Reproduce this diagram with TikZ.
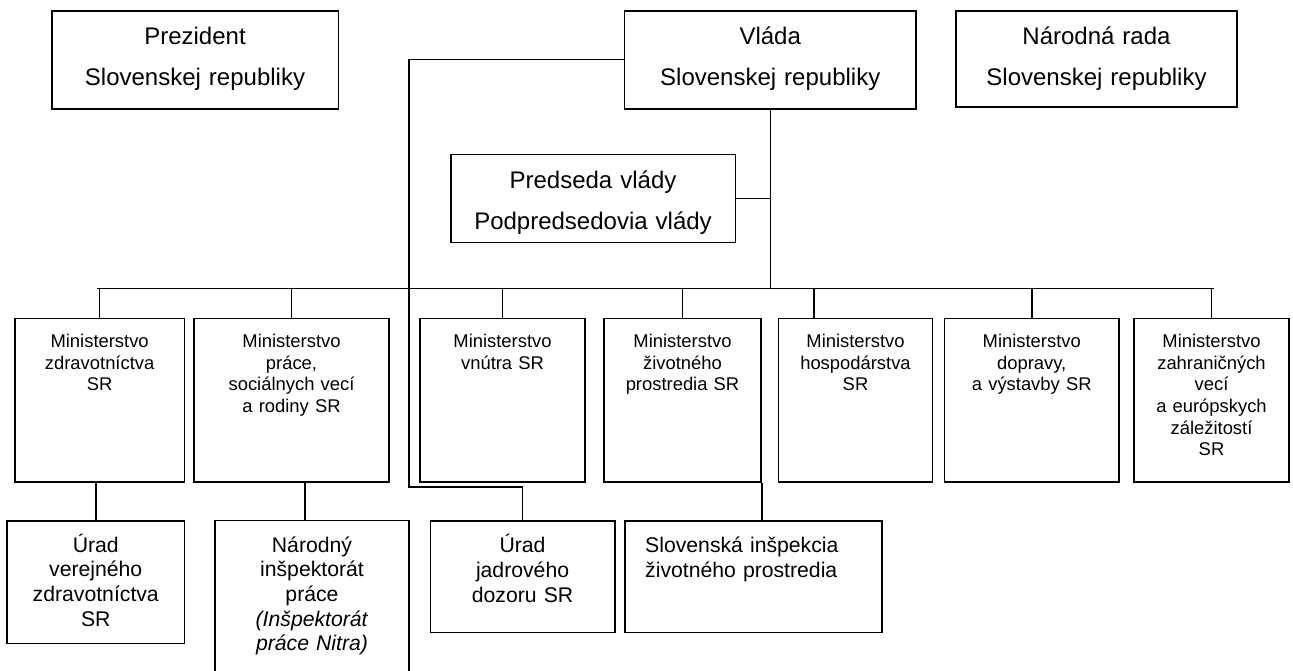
\documentclass[tikz,border=0pt]{standalone}
\usepackage{fontspec}
\setmainfont{Liberation Sans}
\begin{document}
\begin{tikzpicture}[x=1pt,y=-1pt,
  box/.style={draw, line width=1.6pt, inner sep=0pt, rectangle},
  big/.style={font=\fontsize{24}{41}\selectfont, anchor=base, align=center, inner sep=0pt},
  mid/.style={font=\fontsize{18.4}{21.7}\selectfont, anchor=base, align=center, inner sep=0pt},
  sml/.style={font=\fontsize{21.2}{24.7}\selectfont, anchor=base, align=center, inner sep=0pt},
  link/.style={line width=1.5pt}]
\useasboundingbox (0,0) rectangle (1293,670);
% top row
\node[box, minimum width=286.6pt, minimum height=98pt] (prez) at (195,59.7) {};
\node[box, minimum width=291.5pt, minimum height=98pt] (vlada) at (770.25,59.7) {};
\node[box, minimum width=281pt, minimum height=96pt] (narod) at (1096.5,58.7) {};
\node[box, minimum width=284.6pt, minimum height=88pt] (pred) at (593,198.3) {};
\node[big, text width=280pt] (tprez) at (195,44.3) {Prezident\\Slovenskej republiky};
\node[big, text width=285pt] (tvlada) at (770.25,44.3) {Vláda\\Slovenskej republiky};
\node[big, text width=275pt] (tnarod) at (1096.5,44.3) {Národná rada\\Slovenskej republiky};
\node[big, text width=278pt] (tpred) at (593,188.6) {Predseda vlády\\Podpredsedovia vlády};
% ministries
\node[box, minimum width=169.3pt, minimum height=163.4pt] (m1) at (99.65,400) {};
\node[box, minimum width=195pt, minimum height=163.4pt] (m2) at (291.5,400) {};
\node[box, minimum width=165pt, minimum height=163.4pt] (m3) at (502.5,400) {};
\node[box, minimum width=157pt, minimum height=163.4pt] (m4) at (682.5,400) {};
\node[box, minimum width=154pt, minimum height=163.4pt] (m5) at (855.5,400) {};
\node[box, minimum width=174.5pt, minimum height=163.4pt] (m6) at (1031.75,400) {};
\node[box, minimum width=155pt, minimum height=163.4pt] (m7) at (1211.5,400) {};
\node[mid, text width=165pt] (tm1) at (99.65,347.3) {Ministerstvo\\zdravotníctva\\SR};
\node[mid, text width=190pt] (tm2) at (291.5,347.3) {Ministerstvo\\práce,\\sociálnych vecí\\a rodiny SR};
\node[mid, text width=160pt] (tm3) at (502.5,347.3) {Ministerstvo\\vnútra SR};
\node[mid, text width=152pt] (tm4) at (682.5,347.3) {Ministerstvo\\životného\\prostredia SR};
\node[mid, text width=150pt] (tm5) at (855.5,347.3) {Ministerstvo\\hospodárstva\\SR};
\node[mid, text width=170pt] (tm6) at (1031.75,347.3) {Ministerstvo\\dopravy,\\a výstavby SR};
\node[mid, text width=150pt] (tm7) at (1211.5,347.3) {Ministerstvo\\zahraničných\\vecí\\a európskych\\záležitostí\\SR};
% bottom row
\node[box, minimum width=177.5pt, minimum height=122.6pt] (b1) at (95.75,582) {};
\node[box, minimum width=194.4pt, minimum height=179.7pt] (b2) at (312,610.15) {};
\node[box, minimum width=184.5pt, minimum height=111.6pt] (b3) at (522.55,576.5) {};
\node[box, minimum width=256.9pt, minimum height=111.6pt] (b4) at (753.25,576.5) {};
\node[sml, text width=172pt] (tb1) at (95.75,552) {Úrad\\verejného\\zdravotníctva\\SR};
\node[sml, text width=190pt] (tb2) at (312,552) {Národný\\inšpektorát\\práce\\\textit{(Inšpektorát}\\\textit{práce Nitra)}};
\node[sml, text width=180pt] (tb3) at (522.55,552.6) {Úrad\\jadrového\\dozoru SR};
\node[sml, text width=235pt, anchor=base west, align=left] (tb4) at (645,552.6) {Slovenská inšpekcia\\životného prostredia};
% connectors
\coordinate (busL) at (97,288.3);
\coordinate (busR) at (1214,288.3);
\coordinate (jog) at (409,487);
\draw[link] (busL) -- (busR);
\draw[link] (vlada.south) -- (vlada.south |- busL);
\draw[link] (pred.east) -- (pred.east -| vlada.south);
\draw[link] (vlada.west) -| (jog) -| (b3.north);
\foreach \m in {m1,m2,m3,m4,m6,m7} {\draw[link] (\m.north) -- (\m.north |- busL);}
\coordinate (s5) at ([xshift=-41.5pt]m5.north);
\draw[link] (s5) -- (s5 |- busL);
\draw[link] (b1.north |- m1.south) -- (b1.north);
\coordinate (s2) at ([xshift=-7pt]b2.north);
\draw[link] (s2 |- m2.south) -- (s2);
\draw[link] (m4.south east) -- (m4.south east |- b4.north);
\end{tikzpicture}
\end{document}
